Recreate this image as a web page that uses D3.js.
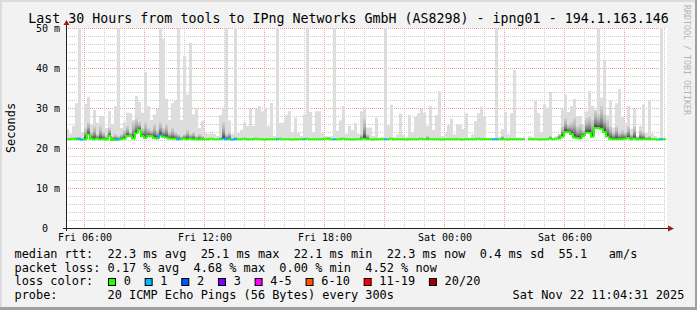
<!DOCTYPE html>
<html>
<head>
<meta charset="utf-8">
<script src="https://cdn.jsdelivr.net/npm/d3@7"></script>
<style>
html, body { margin: 0; padding: 0; background: #f2f2f2; }
svg { display: block; }
</style>
</head>
<body>
<div id="chart"></div>
<script>
const width = 697, height = 310;
const margin = {left: 66, right: 31, top: 28, bottom: 82};
const chartWidth = width - margin.left - margin.right;
const chartHeight = height - margin.top - margin.bottom;
const monoFont = "'DejaVu Sans Mono', monospace";

// 30 hours, 200 bins of 9 minutes
const startTime = new Date(2025, 10, 21, 5, 4, 31);
const endTime = new Date(2025, 10, 22, 11, 4, 31);
const binMinutes = 9;

// highest ping per bin (ms)
const rttMax = [
  24.7, 23.5, 25.5, 31.2, 58, 24, 31, 32.8, 26, 29.5,
  26.3, 28, 28, 25, 29.2, 26, 30.5, 58, 25, 26.5,
  28.8, 28.7, 27, 33, 31.5, 28.8, 39, 30.5, 27, 28.4,
  29.8, 58, 47.3, 32.3, 27, 31.2, 31.8, 58, 27, 43,
  33.4, 46.3, 28.4, 30, 25, 26.8, 23.8, 23.5, 23.8, 23.5,
  23, 28.2, 30.1, 58, 26.9, 23.5, 58, 23.7, 24.5, 26.3,
  25.5, 29.8, 25.5, 29.8, 30.5, 29.2, 30.1, 25.5, 31.3, 23,
  58, 26.3, 26.3, 28.2, 29.2, 24, 27.6, 23.8, 23, 28.4,
  58, 29, 24, 29.2, 29.2, 23.7, 23, 22.8, 23, 58,
  24.3, 26.9, 30.5, 23.5, 25.5, 24.5, 26.3, 23.5, 29.2, 30.1,
  25.1, 25.1, 23, 27.6, 22.6, 22.8, 58, 25.7, 30.8, 22.8,
  23.4, 28.6, 23.4, 22.8, 28.3, 24, 27.8, 28.7, 29.8, 28.8,
  25.5, 30.5, 24.5, 28.2, 34.2, 23, 23.7, 25.7, 27.3, 23.4,
  26, 25.9, 24.7, 28.7, 22.6, 23.4, 26.7, 28.7, 30.3, 28,
  22.5, 22.5, 22.5, 58, 22.8, 24.7, 29, 23.4, 28.7, 39.5,
  22.6, 22.6, 22.6, null, 23, 22.8, 31.8, 28.7, 23.8, 30.9,
  30.1, 34, 22.6, 23, 23, 29.7, 33.4, 29, 30.5, 32.3,
  28, 28, 26, 29.2, 34.3, 30.5, 29.5, 58, 32.6, 42,
  28.2, 31.8, 25.1, 31.2, 34.7, 27.8, 26.2, 30.5, 24.8, 29.8,
  23, 25.5, 30.9, 23.7, 31.7, 23.6, 23, 22.6, 58, 22.6
];

// top of the dense part of the smoke (ms)
const rttBand = [
  22.4, 22.4, 22.4, 22.8, 22.8, 22.4, 25, 26.5, 24, 25.5,
  23.5, 25.5, 24, 23, 25, 23, 23.5, 23, 23.5, 24.5,
  25.5, 24, 26.5, 27.5, 26.5, 25, 26.5, 25, 24.5, 26,
  24.5, 26.5, 25, 26, 24, 25, 24, 23.5, 23, 23.5,
  24.5, 23.5, 24, 23, 23.5, 23, 22.4, 22.4, 22.4, 22.4,
  22.4, 22.8, 26.5, 23.5, 24, 22.4, 22.8, 22.4, 22.4, 22.4,
  22.4, 22.4, 22.4, 22.4, 22.4, 22.4, 22.4, 22.4, 22.4, 22.4,
  22.4, 22.4, 22.4, 22.4, 22.4, 22.4, 22.4, 22.4, 22.4, 22.4,
  22.4, 22.4, 22.4, 22.4, 22.4, 22.4, 22.4, 22.8, 22.4, 22.4,
  22.4, 22.4, 22.4, 22.4, 22.4, 22.4, 22.4, 22.4, 23.5, 27.5,
  23.5, 22.4, 22.4, 22.4, 22.4, 22.4, 22.4, 22.4, 22.4, 22.4,
  22.4, 22.4, 22.4, 22.4, 22.4, 22.4, 22.4, 22.4, 22.4, 22.4,
  23, 22.4, 22.4, 22.4, 22.4, 22.4, 22.4, 22.4, 22.4, 22.4,
  22.4, 22.4, 22.4, 22.4, 22.4, 22.4, 22.4, 22.4, 22.4, 22.4,
  22.4, 22.4, 22.4, 22.4, 22.4, 23, 22.4, 22.4, 22.4, 22.4,
  22.4, 22.4, 22.4, null, 22.4, 22.4, 22.4, 22.4, 22.4, 22.4,
  22.4, 23, 22.4, 22.6, 23.5, 25.5, 27.5, 26, 26.5, 27.5,
  25.5, 26, 24.5, 27.5, 28, 27, 29.5, 28.5, 30.5, 28.5,
  27, 25.5, 24, 25.5, 24, 24.5, 24, 25.5, 23.5, 25.5,
  22.8, 24.5, 24, 22.8, 23, 22.4, 22.4, 22.4, 22.4, 22.4
];

// median rtt (ms)
const rttMedian = [
  22.2, 22.2, 22.3, 22.2, 22.2, 22.1, 22.2, 23.4, 22.3, 22.2,
  22.3, 22.2, 22.2, 22.1, 23.0, 22.0, 22.0, 22.1, 22.2, 22.3,
  23.0, 23.0, 22.4, 23.7, 24.5, 23.0, 22.5, 23.0, 23.0, 22.5,
  22.4, 23.2, 22.8, 22.6, 22.4, 22.3, 22.3, 22.2, 22.2, 22.3,
  22.2, 22.3, 22.2, 22.2, 22.1, 22.2, 22.2, 22.2, 22.3, 22.2,
  22.2, 22.2, 22.3, 22.2, 22.2, 22.1, 22.2, 22.2, 22.2, 22.3,
  22.2, 22.2, 22.2, 22.3, 22.2, 22.2, 22.1, 22.2, 22.2, 22.2,
  22.2, 22.3, 22.2, 22.2, 22.2, 22.1, 22.2, 22.2, 22.2, 22.2,
  22.3, 22.2, 22.2, 22.2, 22.2, 22.2, 22.3, 22.3, 22.2, 22.2,
  22.2, 22.2, 22.3, 22.2, 22.2, 22.1, 22.2, 22.2, 22.2, 22.3,
  22.2, 22.2, 22.1, 22.2, 22.2, 22.2, 22.2, 22.2, 22.3, 22.2,
  22.2, 22.2, 22.2, 22.1, 22.2, 22.2, 22.2, 22.2, 22.3, 22.2,
  22.2, 22.2, 22.2, 22.2, 22.2, 22.1, 22.2, 22.2, 22.2, 22.2,
  22.2, 22.2, 22.1, 22.2, 22.2, 22.2, 22.2, 22.3, 22.2, 22.2,
  22.2, 22.2, 22.2, 22.2, 22.2, 22.2, 22.2, 22.1, 22.2, 22.2,
  22.2, 22.2, 22.2, null, 22.2, 22.2, 22.2, 22.2, 22.1, 22.2,
  22.2, 22.3, 22.2, 22.3, 22.4, 22.8, 24.0, 24.0, 23.5, 22.6,
  22.5, 22.4, 23.0, 23.8, 23.8, 22.8, 25.0, 25.0, 24.8, 24.0,
  22.9, 22.3, 22.2, 22.2, 22.2, 22.2, 22.3, 22.5, 22.2, 22.4,
  22.2, 22.2, 22.2, 22.2, 22.2, 22.2, 22.2, 22.1, 22.2, 22.2
];

// loss colour index per bin (0 = no loss, 1 = one lost ping)
const lossIndex = [
  0, 0, 0, 0, 1, 1, 0, 0, 0, 0,
  0, 0, 0, 0, 0, 0, 0, 1, 0, 0,
  0, 0, 0, 0, 0, 0, 0, 0, 0, 0,
  0, 1, 0, 0, 0, 0, 0, 1, 0, 0,
  0, 0, 0, 0, 0, 0, 0, 0, 0, 0,
  0, 0, 1, 1, 0, 1, 1, 0, 0, 0,
  0, 0, 0, 0, 0, 0, 0, 0, 0, 0,
  1, 0, 0, 0, 0, 0, 0, 0, 0, 1,
  0, 0, 0, 0, 0, 0, 0, 0, 0, 1,
  0, 0, 0, 0, 0, 0, 0, 0, 0, 0,
  0, 0, 0, 0, 0, 0, 1, 0, 0, 0,
  0, 0, 0, 0, 0, 0, 0, 0, 0, 0,
  0, 0, 0, 0, 0, 0, 0, 0, 0, 0,
  0, 0, 0, 0, 0, 0, 0, 0, 0, 0,
  0, 0, 1, 1, 0, 0, 0, 0, 0, 0,
  0, 0, 0, 0, 0, 0, 0, 0, 0, 0,
  0, 0, 0, 0, 0, 0, 0, 0, 0, 0,
  0, 0, 0, 0, 0, 0, 0, 0, 0, 0,
  0, 0, 0, 0, 0, 0, 0, 0, 0, 0,
  0, 0, 0, 0, 0, 0, 0, 0, 1, 0
];

const lossLabels = ["0", "1", "2", "3", "4-5", "6-10", "11-19", "20/20"];
const lossColors = ["#26ff00", "#00b8ff", "#0059ff", "#7e00ff", "#ff00ff", "#ff5500", "#ff0000", "#a10000"];

const yTicks = [0, 10, 20, 30, 40, 50];
const yTickLabels = ["0  ", "10 m", "20 m", "30 m", "40 m", "50 m"];
const xTickTimes = [
  new Date(2025, 10, 21, 6), new Date(2025, 10, 21, 12), new Date(2025, 10, 21, 18),
  new Date(2025, 10, 22, 0), new Date(2025, 10, 22, 6)
];
const xTickLabels = ["Fri 06:00", "Fri 12:00", "Fri 18:00", "Sat 00:00", "Sat 06:00"];

const titleText = "Last 30 Hours from tools to IPng Networks GmbH (AS8298) - ipng01 - 194.1.163.146";
const legendRtt = "median rtt:  22.3 ms avg  25.1 ms max  22.1 ms min  22.3 ms now  0.4 ms sd  55.1   am/s";
const legendLoss = "packet loss: 0.17 % avg  4.68 % max  0.00 % min  4.52 % now";
const legendProbe = "probe:       20 ICMP Echo Pings (56 Bytes) every 300s";
const legendDate = "Sat Nov 22 11:04:31 2025";

// keep runs of spaces in monospace text
const keepSpaces = s => s.replace(/ /g, "\u00a0");

const svg = d3.select("#chart").append("svg")
  .attr("width", width)
  .attr("height", height);

drawFrame(svg);

const x = d3.scaleTime().domain([startTime, endTime]).range([margin.left, margin.left + chartWidth]);
const y = d3.scaleLinear().domain([0, 50]).range([margin.top + chartHeight, margin.top]);
const binStart = i => d3.timeMinute.offset(startTime, i * binMinutes);

drawGrid(svg);
drawSmoke(svg);
drawMedian(svg);
drawAxes(svg);
drawTexts(svg);
drawLegend(svg);

function drawFrame(svg) {
  svg.append("rect").attr("width", width).attr("height", height).attr("fill", "#f2f2f2");
  svg.append("rect").attr("x", 0).attr("y", 0).attr("width", width).attr("height", 2).attr("fill", "#dcdcdc");
  svg.append("rect").attr("x", 0).attr("y", 0).attr("width", 2).attr("height", height).attr("fill", "#dcdcdc");
  svg.append("rect").attr("x", 0).attr("y", height - 3).attr("width", width).attr("height", 3).attr("fill", "#a0a0a0");
  svg.append("rect").attr("x", width - 2).attr("y", 0).attr("width", 2).attr("height", height).attr("fill", "#a0a0a0");
  svg.append("rect")
    .attr("x", margin.left).attr("y", margin.top)
    .attr("width", chartWidth + 1).attr("height", chartHeight)
    .attr("fill", "#ffffff");
}

function drawGrid(svg) {
  const g = svg.append("g");
  const minorY = d3.range(2, 50, 2).filter(v => v % 10 != 0);
  const px = v => Math.round(v) + 0.5;

  g.selectAll(".ymin").data(minorY).enter().append("line")
    .attr("x1", margin.left).attr("x2", margin.left + chartWidth)
    .attr("y1", d => px(y(d))).attr("y2", d => px(y(d)))
    .attr("stroke", "#cccccc").attr("stroke-dasharray", "1,1");

  const hours = d3.timeHour.range(startTime, endTime);
  g.selectAll(".xmin").data(hours.filter(d => d.getHours() % 3 != 0)).enter().append("line")
    .attr("x1", d => px(x(d))).attr("x2", d => px(x(d)))
    .attr("y1", margin.top).attr("y2", margin.top + chartHeight)
    .attr("stroke", "#cccccc").attr("stroke-dasharray", "1,1");

  g.selectAll(".ymaj").data(yTicks.filter(d => d > 0)).enter().append("line")
    .attr("x1", margin.left).attr("x2", margin.left + chartWidth)
    .attr("y1", d => px(y(d))).attr("y2", d => px(y(d)))
    .attr("stroke", "#f29a9a").attr("stroke-dasharray", "1,1");

  g.selectAll(".xmaj").data(hours.filter(d => d.getHours() % 3 == 0)).enter().append("line")
    .attr("x1", d => px(x(d))).attr("x2", d => px(x(d)))
    .attr("y1", margin.top).attr("y2", margin.top + chartHeight)
    .attr("stroke", "#f29a9a").attr("stroke-dasharray", "1,1");
}

function drawSmoke(svg) {
  const defs = svg.append("defs");
  defs.append("clipPath").attr("id", "plotclip").append("rect")
    .attr("x", margin.left).attr("y", margin.top)
    .attr("width", chartWidth).attr("height", chartHeight);
  const grad = defs.append("linearGradient").attr("id", "smokegrad")
    .attr("x1", 0).attr("y1", 1).attr("x2", 0).attr("y2", 0);
  grad.append("stop").attr("offset", 0).attr("stop-color", "#333333");
  grad.append("stop").attr("offset", 0.25).attr("stop-color", "#7a7a7a");
  grad.append("stop").attr("offset", 0.6).attr("stop-color", "#b5b5b5");
  grad.append("stop").attr("offset", 1).attr("stop-color", "#d3d3d3");

  const idx = d3.range(rttMax.length).filter(i => rttMax[i] != null);
  const g = svg.append("g").attr("clip-path", "url(#plotclip)");

  g.selectAll(".smoke").data(idx).enter().append("rect")
    .attr("x", i => x(binStart(i)))
    .attr("width", i => x(binStart(i + 1)) - x(binStart(i)))
    .attr("y", i => y(rttMax[i]))
    .attr("height", i => Math.max(0, y(rttMedian[i]) - y(rttMax[i])))
    .attr("fill", "#dddddd");

  g.selectAll(".band").data(idx.filter(i => rttBand[i] > rttMedian[i] + 0.3)).enter().append("rect")
    .attr("x", i => x(binStart(i)))
    .attr("width", i => x(binStart(i + 1)) - x(binStart(i)))
    .attr("y", i => y(rttBand[i]))
    .attr("height", i => y(rttMedian[i]) - y(rttBand[i]))
    .attr("fill", "url(#smokegrad)");
}

function drawMedian(svg) {
  const g = svg.append("g").attr("clip-path", "url(#plotclip)");
  rttMedian.forEach((v, i) => {
    if (v == null) return;
    const x0 = x(binStart(i)), x1 = x(binStart(i + 1));
    const prev = i > 0 ? rttMedian[i - 1] : null;
    const d = prev == null
      ? `M${x0},${y(v)}H${x1}`
      : `M${x0},${y(prev)}V${y(v)}H${x1}`;
    g.append("path")
      .attr("d", d)
      .attr("fill", "none")
      .attr("stroke", lossColors[lossIndex[i]])
      .attr("stroke-width", 2);
  });
}

function drawAxes(svg) {
  const axisY = margin.top + chartHeight + 0.5;
  const axisX = margin.left + 0.5;

  svg.append("line")
    .attr("x1", margin.left - 3).attr("x2", margin.left + chartWidth + 4)
    .attr("y1", axisY).attr("y2", axisY)
    .attr("stroke", "#222");
  svg.append("line")
    .attr("x1", axisX).attr("x2", axisX)
    .attr("y1", margin.top + chartHeight + 3).attr("y2", margin.top - 4)
    .attr("stroke", "#222");

  svg.append("path")
    .attr("d", `M${margin.left + chartWidth + 2},${axisY - 3}L${margin.left + chartWidth + 8},${axisY}L${margin.left + chartWidth + 2},${axisY + 3}Z`)
    .attr("fill", "#9c1c1c");
  svg.append("path")
    .attr("d", `M${axisX - 3},${margin.top - 3}L${axisX},${margin.top - 8}L${axisX + 3},${margin.top - 3}Z`)
    .attr("fill", "#9c1c1c");

  const xAxis = d3.axisBottom(x)
    .tickValues(xTickTimes)
    .tickFormat((d, i) => xTickLabels[i])
    .tickSize(0)
    .tickPadding(6);
  const gx = svg.append("g")
    .attr("transform", `translate(0, ${margin.top + chartHeight})`)
    .call(xAxis);
  gx.select(".domain").remove();
  gx.selectAll("text").attr("font-family", monoFont).attr("font-size", "10px").attr("fill", "#000");

  const yAxis = d3.axisLeft(y)
    .tickValues(yTicks)
    .tickFormat((d, i) => keepSpaces(yTickLabels[i]))
    .tickSize(0)
    .tickPadding(6);
  const gy = svg.append("g")
    .attr("transform", `translate(${margin.left}, 0)`)
    .call(yAxis);
  gy.select(".domain").remove();
  gy.selectAll("text").attr("font-family", monoFont).attr("font-size", "10px").attr("fill", "#000");
}

function drawTexts(svg) {
  svg.append("text")
    .attr("x", width / 2).attr("y", 23)
    .attr("text-anchor", "middle")
    .attr("font-family", monoFont).attr("font-size", "13.3px")
    .text(titleText);

  svg.append("text")
    .attr("transform", `translate(15, ${margin.top + chartHeight / 2}) rotate(-90)`)
    .attr("text-anchor", "middle")
    .attr("font-family", monoFont).attr("font-size", "11.9px")
    .text("Seconds");

  svg.append("text")
    .attr("transform", "translate(684, 5) rotate(90)")
    .attr("font-family", monoFont).attr("font-size", "8.3px")
    .attr("fill", "#b4b4b4")
    .text("RRDTOOL / TOBI OETIKER");
}

function drawLegend(svg) {
  const g = svg.append("g")
    .attr("font-family", monoFont).attr("font-size", "11.9px");
  const lx = 14.5;

  g.append("text").attr("x", lx).attr("y", 258).text(keepSpaces(legendRtt));
  g.append("text").attr("x", lx).attr("y", 271.5).text(keepSpaces(legendLoss));
  g.append("text").attr("x", lx).attr("y", 285).text("loss color:");
  g.append("text").attr("x", lx).attr("y", 298.5).text(keepSpaces(legendProbe));
  g.append("text").attr("x", 512.5).attr("y", 298.5).text(legendDate);

  const charW = 7.15;
  let cursor = 108.5;
  lossLabels.forEach((label, i) => {
    g.append("rect")
      .attr("x", cursor).attr("y", 278.5)
      .attr("width", 7).attr("height", 7)
      .attr("fill", lossColors[i])
      .attr("stroke", "#000");
    g.append("text").attr("x", cursor + 15.2).attr("y", 285).text(label);
    cursor += 15.2 + label.length * charW + 14.3;
  });
}
</script>
</body>
</html>
